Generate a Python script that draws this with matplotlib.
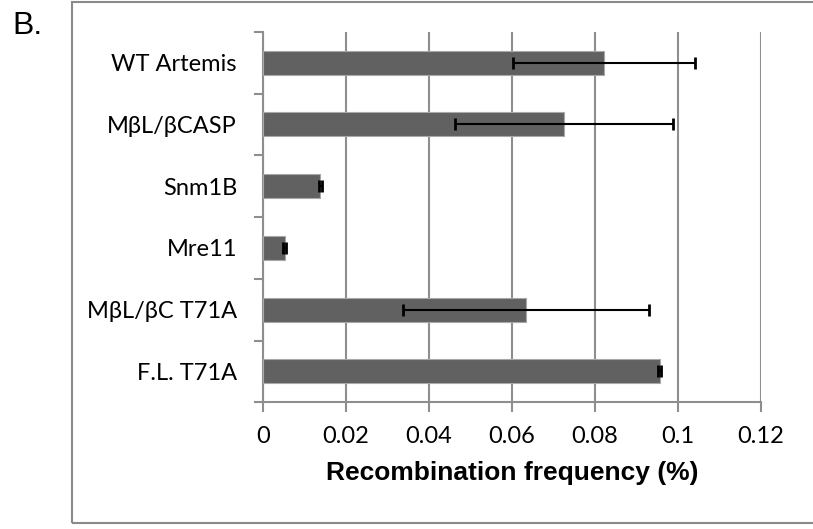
import matplotlib
matplotlib.use("Agg")
import matplotlib.pyplot as plt
from matplotlib.patches import Rectangle

# data (top to bottom)
labels = ['WT Artemis', 'MβL/βCASP', 'Snm1B', 'Mre11', 'MβL/βC T71A', 'F.L. T71A']
freq = [0.0823, 0.0726, 0.0139, 0.0053, 0.0635, 0.0956]
err = [0.0219, 0.0263, 0.0004, 0.0003, 0.0296, 0.0003]
xticks = [0, 0.02, 0.04, 0.06, 0.08, 0.1, 0.12]
xtick_labels = ['0', '0.02', '0.04', '0.06', '0.08', '0.1', '0.12']

label_font = ['Lato', 'DejaVu Sans']
grid_col = '#8e8e8e'

fig = plt.figure(figsize=(8.13, 5.29), dpi=100)
ax = fig.add_axes([0.3231, 0.2395, 0.6129, 0.7005])

ypos = list(range(len(labels)))[::-1]
ax.barh(ypos, freq, height=0.39, color='#616161', edgecolor='#a8a8a8',
        linewidth=0.8, zorder=3)
ax.errorbar(freq, ypos, xerr=err, fmt='none', ecolor='black',
            elinewidth=1.5, capsize=4.3, capthick=2, zorder=4)

ax.set_xlim(0, 0.12)
ax.set_ylim(-0.5, len(labels) - 0.5)
ax.set_xticks(xticks)
ax.set_xticklabels(xtick_labels, family=label_font, fontsize=17)
ax.set_yticks(ypos)
ax.set_yticklabels(labels, family=label_font, fontsize=17)
ax.tick_params(axis='y', length=0, pad=18.5)
ax.tick_params(axis='x', length=7, width=1.5, color=grid_col, pad=10)

# category separator ticks on the y axis
for b in [i - 0.5 for i in range(len(labels) + 1)]:
    ax.plot([-0.0019, 0], [b, b], color=grid_col, lw=1.5, clip_on=False, zorder=2)

ax.grid(axis='x', color=grid_col, linewidth=1.5, zorder=0)
ax.set_axisbelow(True)
for s in ['top', 'right']:
    ax.spines[s].set_visible(False)
for s in ['left', 'bottom']:
    ax.spines[s].set_color(grid_col)
    ax.spines[s].set_linewidth(1.5)

ax.set_xlabel('Recombination frequency (%)', family='Liberation Sans',
              fontweight='bold', fontsize=19, labelpad=10)

# outer frame and panel letter
fig.patches.append(Rectangle((72 / 813, 6 / 529), 1.0, 521 / 529,
                             transform=fig.transFigure, fill=False,
                             edgecolor='#8a8a8a', linewidth=1.5))
fig.text(12 / 813, 1 - 26 / 529, 'B.', family='Liberation Sans', fontsize=23,
         ha='left', va='center')

fig.savefig('out.png', dpi=100)
